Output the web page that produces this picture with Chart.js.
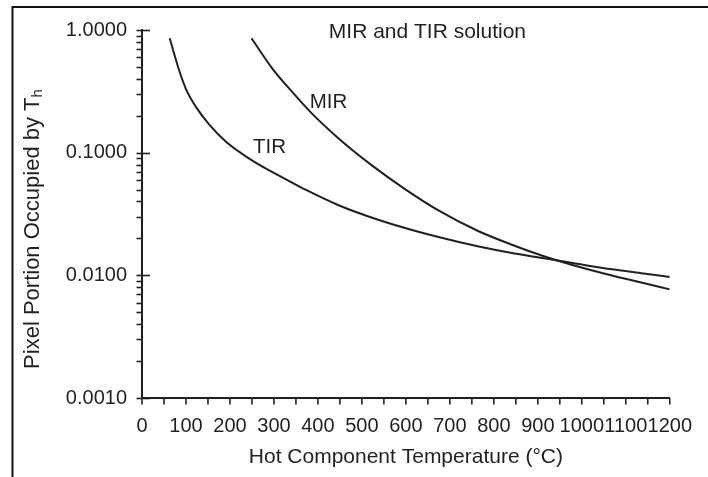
<!DOCTYPE html>
<html>
<head>
<meta charset="utf-8">
<script src="https://cdn.jsdelivr.net/npm/chart.js@4/dist/chart.umd.min.js"></script>
<style>
  html, body { margin: 0; padding: 0; background: #fff; }
  #wrap { position: relative; width: 708px; height: 477px; overflow: hidden; }
  canvas { display: block; }
</style>
</head>
<body>
<div id="wrap"><canvas id="c" width="708" height="477"></canvas></div>
<script>
// ---- data ----
const tirTemp = [63, 85, 100, 123, 153, 191, 243, 281, 338, 372, 447, 537, 612, 688, 763, 838, 914, 989, 1064, 1140, 1200];
const tirPortion = [0.856, 0.4627, 0.330, 0.235, 0.1693, 0.1227, 0.0898, 0.0744, 0.0579, 0.0499, 0.0373, 0.02838, 0.02352, 0.01994, 0.01725, 0.01527, 0.01377, 0.01242, 0.01124, 0.01035, 0.0097];
const mirTemp = [249, 296, 341, 386, 447, 522, 598, 673, 763, 838, 914, 989, 1064, 1140, 1200];
const mirPortion = [0.856, 0.487, 0.314, 0.209, 0.1307, 0.0792, 0.0505, 0.034, 0.0231, 0.01794, 0.01432, 0.01186, 0.01006, 0.00866, 0.00768];
const xTickValues = [0, 100, 200, 300, 400, 500, 600, 700, 800, 900, 1000, 1100, 1200];
const yMajorTicks = [0.001, 0.01, 0.1, 1];
const yTickLabels = ['0.0010', '0.0100', '0.1000', '1.0000'];
const chartTitle = 'MIR and TIR solution';
const xTitle = 'Hot Component Temperature (\u00B0C)';
const yTitleMain = 'Pixel Portion Occupied by T';
const yTitleSub = 'h';
const curveLabels = [
  { text: 'MIR', x: 424, y: 0.256 },
  { text: 'TIR', x: 290, y: 0.111 }
];
const titleAnchor = { x: 649, y: 0.96 };

const INK = '#231f20';
const FONT = '"Liberation Sans", Arial, Helvetica, sans-serif';

function pts(xs, ys) { return xs.map((x, i) => ({ x: x, y: ys[i] })); }

const decorPlugin = {
  id: 'decor',
  beforeDraw(chart) {
    const ctx = chart.ctx;
    ctx.save();
    ctx.fillStyle = '#fff';
    ctx.fillRect(0, 0, chart.width, chart.height);
    // outer frame (top and left)
    ctx.strokeStyle = '#111';
    ctx.lineWidth = 2;
    ctx.beginPath();
    ctx.moveTo(12.5, chart.height);
    ctx.lineTo(12.5, 7);
    ctx.lineTo(chart.width, 7);
    ctx.stroke();
    ctx.restore();
  },
  afterDraw(chart) {
    const ctx = chart.ctx;
    const xs = chart.scales.x, ys = chart.scales.y;
    const a = chart.chartArea;
    ctx.save();
    ctx.strokeStyle = INK;
    ctx.lineWidth = 1.6;
    // y ticks
    ys.ticks.forEach(t => {
      const py = Math.round(ys.getPixelForValue(t.value)) + 0.5;
      const major = yMajorTicks.some(v => Math.abs(Math.log10(v) - Math.log10(t.value)) < 1e-6);
      ctx.beginPath();
      ctx.moveTo(a.left - 5.5, py);
      ctx.lineTo(a.left + (major ? 8 : 0), py);
      ctx.stroke();
    });
    // x ticks
    xs.ticks.forEach(t => {
      const px = xs.getPixelForValue(t.value);
      ctx.beginPath();
      ctx.moveTo(px, a.bottom);
      ctx.lineTo(px, a.bottom + 6.5);
      ctx.stroke();
    });
    // texts
    ctx.fillStyle = INK;
    ctx.font = '21px ' + FONT;
    ctx.textAlign = 'center';
    ctx.textBaseline = 'middle';
    ctx.fillText(chartTitle, xs.getPixelForValue(titleAnchor.x), ys.getPixelForValue(titleAnchor.y));
    ctx.font = '20.5px ' + FONT;
    curveLabels.forEach(l => {
      ctx.fillText(l.text, xs.getPixelForValue(l.x), ys.getPixelForValue(l.y));
    });
    // x title
    ctx.font = '21px ' + FONT;
    ctx.fillText(xTitle, (a.left + a.right) / 2, a.bottom + 59);
    // y title with subscript
    ctx.translate(33, (a.top + a.bottom) / 2 + 15);
    ctx.rotate(-Math.PI / 2);
    ctx.font = '22px ' + FONT;
    const w1 = ctx.measureText(yTitleMain).width;
    ctx.font = '15px ' + FONT;
    const w2 = ctx.measureText(yTitleSub).width;
    const total = w1 + w2;
    ctx.textAlign = 'left';
    ctx.font = '22px ' + FONT;
    ctx.fillText(yTitleMain, -total / 2, 0);
    ctx.font = '15px ' + FONT;
    ctx.fillText(yTitleSub, -total / 2 + w1, 5);
    ctx.restore();
  }
};

new Chart(document.getElementById('c'), {
  type: 'line',
  data: {
    datasets: [
      { label: 'TIR', data: pts(tirTemp, tirPortion), borderColor: INK, borderWidth: 2, pointRadius: 0, cubicInterpolationMode: 'monotone', fill: false },
      { label: 'MIR', data: pts(mirTemp, mirPortion), borderColor: INK, borderWidth: 2, pointRadius: 0, cubicInterpolationMode: 'monotone', fill: false }
    ]
  },
  options: {
    responsive: false,
    animation: false,
    devicePixelRatio: 1,
    layout: { padding: { left: 0, top: 30, right: 35, bottom: 0 } },
    plugins: { legend: { display: false }, tooltip: { enabled: false }, title: { display: false } },
    scales: {
      x: {
        type: 'linear',
        min: 0, max: 1200,
        afterBuildTicks(scale) {
          const t = [];
          for (let v = 0; v <= 1200; v += 50) t.push({ value: v });
          scale.ticks = t;
        },
        afterFit(scale) { scale.height = 79; },
        grid: { display: false, drawTicks: false },
        border: { display: true, color: INK, width: 2 },
        ticks: {
          autoSkip: false, maxRotation: 0, minRotation: 0,
          padding: 16,
          color: INK,
          font: { family: FONT, size: 20 },
          callback: v => (xTickValues.includes(v) ? String(v) : '')
        }
      },
      y: {
        type: 'logarithmic',
        min: 0.001, max: 1,
        afterBuildTicks(scale) {
          const t = [];
          for (let e = -3; e < 0; e++) {
            for (let m = 1; m <= 9; m++) t.push({ value: m * Math.pow(10, e) });
          }
          t.push({ value: 1 });
          scale.ticks = t;
        },
        afterFit(scale) { scale.width = 142; },
        grid: { display: false, drawTicks: false },
        border: { display: true, color: INK, width: 2 },
        ticks: {
          autoSkip: false,
          padding: 15,
          color: INK,
          font: { family: FONT, size: 20 },
          callback: v => {
            const i = yMajorTicks.findIndex(m => Math.abs(Math.log10(m) - Math.log10(v)) < 1e-6);
            return i >= 0 ? yTickLabels[i] : '';
          }
        }
      }
    }
  },
  plugins: [decorPlugin]
});
</script>
</body>
</html>
